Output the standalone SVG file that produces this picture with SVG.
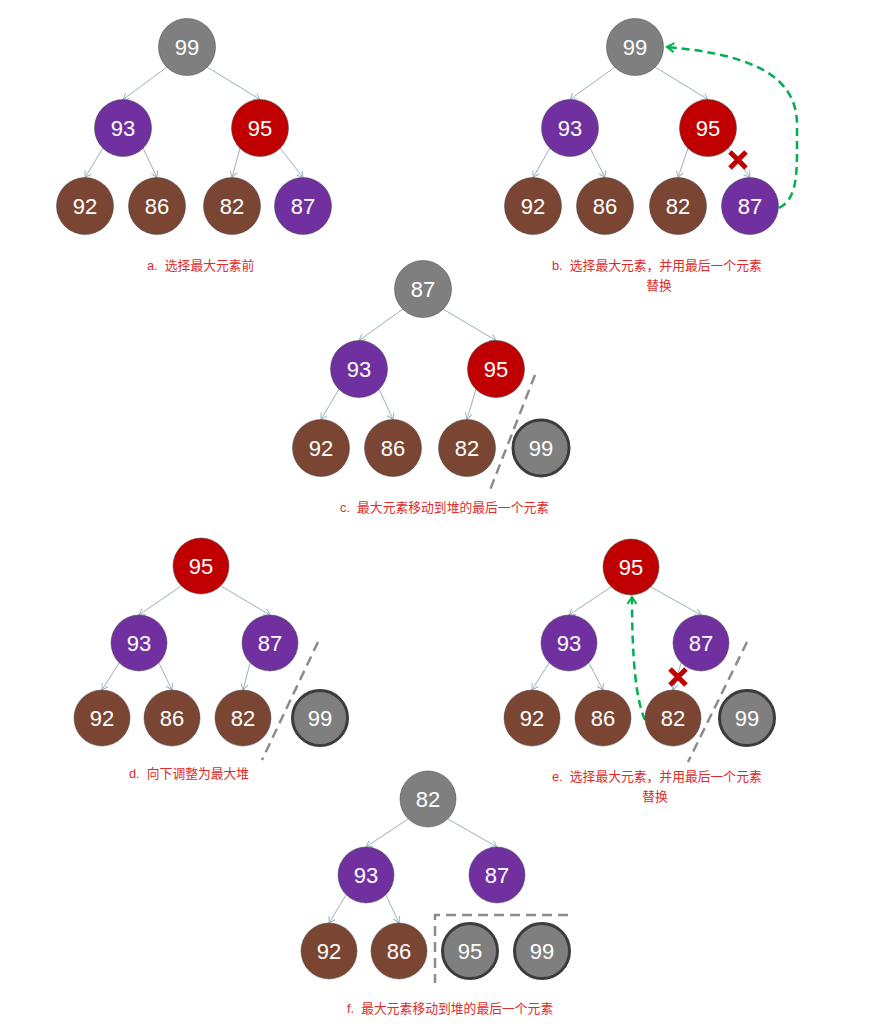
<svg xmlns="http://www.w3.org/2000/svg" width="871" height="1026" viewBox="0 0 871 1026">
<style>
.n{stroke:#4a4a4a;stroke-opacity:.55;stroke-width:1}
.g{fill:#7f7f7f}.p{fill:#7030a0}.r{fill:#c00000}.b{fill:#7a4532}
.t{stroke:#3c3c3c;stroke-width:3;stroke-opacity:1;fill:#7f7f7f}
.v{font-family:"Liberation Sans",Arial,sans-serif;font-size:22px;fill:#fff;text-anchor:middle}
.e{fill:none;stroke:#9bb0bf;stroke-width:1;marker-end:url(#ah)}
.gr{fill:none;stroke:#00b050;stroke-width:2.5;stroke-dasharray:8 5;marker-end:url(#gh)}
.ds{fill:none;stroke:#8c8c8c;stroke-width:2.5;stroke-dasharray:10 6}
.x{stroke:#c00000;stroke-width:5}
.l{font-family:"Liberation Sans","Noto Sans CJK SC",sans-serif;font-size:12.8px;fill:#e02a2a;white-space:pre}
</style>
<defs>
<marker id="ah" markerUnits="userSpaceOnUse" markerWidth="12" markerHeight="12" viewBox="-8 -6 10 12" refX="0" refY="0" orient="auto"><path d="M-6,-3.5 L0,0 L-6,3.5" fill="none" stroke="#9bb0bf" stroke-width="1"/></marker>
<marker id="gh" markerUnits="userSpaceOnUse" markerWidth="14" markerHeight="14" viewBox="-10 -7 12 14" refX="0" refY="0" orient="auto"><path d="M-7,-4.5 L0,0 L-7,4.5" fill="none" stroke="#00b050" stroke-width="2"/></marker>
</defs>
<rect width="871" height="1026" fill="#fff"/>
<g id="connectors">
<path class="e" d="M167,67 L123,99.5"/><path class="e" d="M207,67 L260,99.5"/><path class="e" d="M103,148 L85,177.5"/><path class="e" d="M143,148 L157,177.5"/><path class="e" d="M240,148 L232,177.5"/><path class="e" d="M280,148 L303,177.5"/>
<path class="e" d="M615,67 L570,99.5"/><path class="e" d="M655,67 L708,99.5"/><path class="e" d="M550,148 L533,177.5"/><path class="e" d="M590,148 L605,177.5"/><path class="e" d="M688,148 L678,177.5"/><path class="e" d="M728,148 L750,177.5"/>
<path class="gr" d="M779,208 C795,200 797,180 797,150 L797,125 C797,80 760,55 667,47"/>
<path class="x" d="M730,152 L746,168 M746,152 L730,168"/>
<path class="e" d="M403,309 L359,340.5"/><path class="e" d="M443,309 L496,340.5"/><path class="e" d="M339,389 L321,419.5"/><path class="e" d="M379,389 L393,419.5"/><path class="e" d="M476,389 L467,419.5"/>
<path class="ds" d="M535,375 L490,490"/>
<path class="e" d="M181,586 L139,615"/><path class="e" d="M221,586 L270,615"/><path class="e" d="M119,663 L102,690"/><path class="e" d="M159,663 L172,690"/><path class="e" d="M250,663 L243,690"/>
<path class="ds" d="M318,642 L262,760"/>
<path class="e" d="M611,587 L569,615"/><path class="e" d="M651,587 L701,615"/><path class="e" d="M549,663 L532,690"/><path class="e" d="M589,663 L603,690"/><path class="e" d="M681,663 L673,690"/>
<path class="gr" d="M645,720 C636,700 632,660 632,597"/>
<path class="x" d="M670,669 L686,685 M686,669 L670,685"/>
<path class="ds" d="M747,642 L688,762"/>
<path class="e" d="M408,819 L366,847"/><path class="e" d="M448,819 L497,847"/><path class="e" d="M346,895 L329,923"/><path class="e" d="M386,895 L399,923"/>
<path class="ds" d="M568,915 L435,915 L435,983"/>
</g>
<g id="a99"><circle class="n g" cx="187" cy="47" r="28.5"/><text class="v" x="187" y="55">99</text></g>
<g id="a93"><circle class="n p" cx="123" cy="128" r="28.5"/><text class="v" x="123" y="136">93</text></g>
<g id="a95"><circle class="n r" cx="260" cy="128" r="28.5"/><text class="v" x="260" y="136">95</text></g>
<g id="a92"><circle class="n b" cx="85" cy="206" r="28.5"/><text class="v" x="85" y="214">92</text></g>
<g id="a86"><circle class="n b" cx="157" cy="206" r="28.5"/><text class="v" x="157" y="214">86</text></g>
<g id="a82"><circle class="n b" cx="232" cy="206" r="28.5"/><text class="v" x="232" y="214">82</text></g>
<g id="a87"><circle class="n p" cx="303" cy="206" r="28.5"/><text class="v" x="303" y="214">87</text></g>
<g id="b99"><circle class="n g" cx="635" cy="47" r="28.5"/><text class="v" x="635" y="55">99</text></g>
<g id="b93"><circle class="n p" cx="570" cy="128" r="28.5"/><text class="v" x="570" y="136">93</text></g>
<g id="b95"><circle class="n r" cx="708" cy="128" r="28.5"/><text class="v" x="708" y="136">95</text></g>
<g id="b92"><circle class="n b" cx="533" cy="206" r="28.5"/><text class="v" x="533" y="214">92</text></g>
<g id="b86"><circle class="n b" cx="605" cy="206" r="28.5"/><text class="v" x="605" y="214">86</text></g>
<g id="b82"><circle class="n b" cx="678" cy="206" r="28.5"/><text class="v" x="678" y="214">82</text></g>
<g id="b87"><circle class="n p" cx="750" cy="206" r="28.5"/><text class="v" x="750" y="214">87</text></g>
<g id="c87"><circle class="n g" cx="423" cy="289" r="28.5"/><text class="v" x="423" y="297">87</text></g>
<g id="c93"><circle class="n p" cx="359" cy="369" r="28.5"/><text class="v" x="359" y="377">93</text></g>
<g id="c95"><circle class="n r" cx="496" cy="369" r="28.5"/><text class="v" x="496" y="377">95</text></g>
<g id="c92"><circle class="n b" cx="321" cy="448" r="28.5"/><text class="v" x="321" y="456">92</text></g>
<g id="c86"><circle class="n b" cx="393" cy="448" r="28.5"/><text class="v" x="393" y="456">86</text></g>
<g id="c82"><circle class="n b" cx="467" cy="448" r="28.5"/><text class="v" x="467" y="456">82</text></g>
<g id="c99"><circle class="n t" cx="541" cy="448" r="28"/><text class="v" x="541" y="456">99</text></g>
<g id="d95"><circle class="n r" cx="201" cy="566" r="28"/><text class="v" x="201" y="574">95</text></g>
<g id="d93"><circle class="n p" cx="139" cy="643" r="28"/><text class="v" x="139" y="651">93</text></g>
<g id="d87"><circle class="n p" cx="270" cy="643" r="28"/><text class="v" x="270" y="651">87</text></g>
<g id="d92"><circle class="n b" cx="102" cy="718" r="28"/><text class="v" x="102" y="726">92</text></g>
<g id="d86"><circle class="n b" cx="172" cy="718" r="28"/><text class="v" x="172" y="726">86</text></g>
<g id="d82"><circle class="n b" cx="243" cy="718" r="28"/><text class="v" x="243" y="726">82</text></g>
<g id="d99"><circle class="n t" cx="320" cy="718" r="27.5"/><text class="v" x="320" y="726">99</text></g>
<g id="e95"><circle class="n r" cx="631" cy="567" r="28"/><text class="v" x="631" y="575">95</text></g>
<g id="e93"><circle class="n p" cx="569" cy="643" r="28"/><text class="v" x="569" y="651">93</text></g>
<g id="e87"><circle class="n p" cx="701" cy="643" r="28"/><text class="v" x="701" y="651">87</text></g>
<g id="e92"><circle class="n b" cx="532" cy="718" r="28"/><text class="v" x="532" y="726">92</text></g>
<g id="e86"><circle class="n b" cx="603" cy="718" r="28"/><text class="v" x="603" y="726">86</text></g>
<g id="e82"><circle class="n b" cx="673" cy="718" r="28"/><text class="v" x="673" y="726">82</text></g>
<g id="e99"><circle class="n t" cx="747" cy="718" r="27.5"/><text class="v" x="747" y="726">99</text></g>
<g id="f82"><circle class="n g" cx="428" cy="799" r="28"/><text class="v" x="428" y="807">82</text></g>
<g id="f93"><circle class="n p" cx="366" cy="875" r="28"/><text class="v" x="366" y="883">93</text></g>
<g id="f87"><circle class="n p" cx="497" cy="875" r="28"/><text class="v" x="497" y="883">87</text></g>
<g id="f92"><circle class="n b" cx="329" cy="951" r="28"/><text class="v" x="329" y="959">92</text></g>
<g id="f86"><circle class="n b" cx="399" cy="951" r="28"/><text class="v" x="399" y="959">86</text></g>
<g id="f95"><circle class="n t" cx="470" cy="951" r="27.5"/><text class="v" x="470" y="959">95</text></g>
<g id="f99"><circle class="n t" cx="542" cy="951" r="27.5"/><text class="v" x="542" y="959">99</text></g>
<g id="labels" xml:space="preserve">
<text class="l" x="147" y="270">a.  选择最大元素前</text>
<text class="l" x="552" y="270">b.  选择最大元素，并用最后一个元素</text>
<text class="l" x="659" y="290" text-anchor="middle">替换</text>
<text class="l" x="340" y="512">c.  最大元素移动到堆的最后一个元素</text>
<text class="l" x="129" y="778">d.  向下调整为最大堆</text>
<text class="l" x="552" y="781">e.  选择最大元素，并用最后一个元素</text>
<text class="l" x="655" y="801" text-anchor="middle">替换</text>
<text class="l" x="347" y="1013">f.  最大元素移动到堆的最后一个元素</text>
</g>
</svg>
